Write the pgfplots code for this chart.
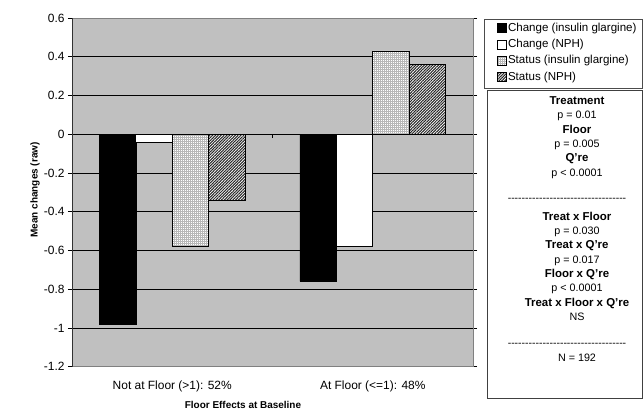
\documentclass[border=0pt]{standalone}
\usepackage{pgfplots}
\pgfplotsset{compat=1.18}
\usepackage{fontspec}
\setmainfont{Liberation Sans}
\usetikzlibrary{patterns,patterns.meta}
\definecolor{plotbg}{RGB}{192,192,192}
\begin{document}
\begin{tikzpicture}
\path[use as bounding box] (-72bp,-46.3bp) rectangle (571bp,366.7bp);
\begin{axis}[
  scale only axis, width=401bp, height=348.7bp,
  at={(0,0)}, anchor=south west,
  ybar=0pt, bar width=36.5bp,
  xmin=-0.5, xmax=1.5, ymin=-1.2, ymax=0.6,
  ytick={-1.2,-1,-0.8,-0.6,-0.4,-0.2,0,0.2,0.4,0.6},
  xtick={0,1},
  xticklabels={Not at Floor (>1): 52\%, At Floor (<=1): 48\%},
  x tick style={draw=none},
  y tick style={black, line width=0.6bp},
  tick align=outside, major tick length=4bp,
  ymajorgrids, grid style={black, line width=0.6bp},
  axis background/.style={fill=plotbg},
  axis line style={gray, line width=0.8bp},
  tick label style={font=\fontsize{12}{14}\selectfont},
  xticklabel style={yshift=-7bp},
  yticklabel style={/pgf/number format/.cd, fixed, precision=1, assume math mode=true},
  ylabel={\textbf{Mean changes (raw)}},
  ylabel style={at={(rel axis cs:-0.092,0.507)}, anchor=center, font=\fontsize{10}{12}\selectfont},
  xlabel={\textbf{Floor Effects at Baseline}},
  xlabel style={at={(rel axis cs:0.4264,-0.11)}, anchor=center, font=\fontsize{10}{12}\selectfont},
  area legend,
  legend image code/.code={\draw[#1] (0bp,-4.5bp) rectangle (9bp,4.5bp);},
  legend cell align=left,
  legend style={at={(rel axis cs:1.0549,1.0004)}, anchor=north west,
    draw=none, fill=none,
    font=\fontsize{11.6}{13}\selectfont, row sep=0pt, inner sep=2bp,
    nodes={inner xsep=1bp, inner ysep=2.65bp, text height=8.5bp, text depth=2.5bp}},
]
\addplot[fill=black, draw=black, line width=0.5bp] coordinates {(0,-0.98) (1,-0.76)};
\addlegendentry{Change (insulin glargine)}
\addplot[fill=white, draw=black, line width=0.8bp] coordinates {(0,-0.04) (1,-0.58)};
\addlegendentry{Change (NPH)}
\addplot[fill=white, draw=black, line width=0.8bp, postaction={pattern={Hatch[angle=0,distance=2bp,line width=0.4bp]}, pattern color=black!28}] coordinates {(0,-0.58) (1,0.43)};
\addlegendentry{Status (insulin glargine)}
\addplot[fill=white, draw=black, line width=0.8bp, postaction={pattern={Lines[angle=45,distance=2bp,line width=1.05bp]}, pattern color=black!85}] coordinates {(0,-0.34) (1,0.36)};
\addlegendentry{Status (NPH)}
\draw[black!80, line width=0.8bp] (rel axis cs:0,0) -- (rel axis cs:0,1);
\draw[black, line width=0.6bp] (axis cs:0.5,0) -- ([yshift=-4bp]axis cs:0.5,0);
\end{axis}
\begin{scope}[x=1bp,y=1bp]
\draw[black!70, line width=0.8bp] (412,347.7) rectangle (570.5,278.7);
\draw[black!75, line width=0.8bp, fill=white] (415,276.7) rectangle (570.5,-31.3);
\foreach \y/\t in {102/\textbf{\fontsize{11.5}{12}\selectfont Treatment}, 116.4/p = 0.01, 130.8/\textbf{\fontsize{11.5}{12}\selectfont Floor}, 145.2/p = 0.005,
  159.6/\textbf{\fontsize{11.5}{12}\selectfont Q’re}, 174/p < 0.0001, 218/\textbf{\fontsize{11.5}{12}\selectfont Treat x Floor}, 232.3/p = 0.030,
  246.6/\textbf{\fontsize{11.5}{12}\selectfont Treat x Q’re}, 261/p = 0.017, 275.3/\textbf{\fontsize{11.5}{12}\selectfont Floor x Q’re}, 289.6/p < 0.0001,
  304/\textbf{\fontsize{11.5}{12}\selectfont Treat x Floor x Q’re}, 318/NS, 359/N = 192}
  \node[font=\fontsize{10.8}{12}\selectfont, inner sep=0, anchor=center] at (505,366.7-\y) {\strut\t};
\foreach \y in {198,343}
  \node[font=\fontsize{10.5}{12}\selectfont, inner sep=0] at (495,366.7-\y-2) {-{}-{}-{}-{}-{}-{}-{}-{}-{}-{}-{}-{}-{}-{}-{}-{}-{}-{}-{}-{}-{}-{}-{}-{}-{}-{}-{}-{}-{}-{}-{}-{}-{}-};
\end{scope}
\end{tikzpicture}
\end{document}
